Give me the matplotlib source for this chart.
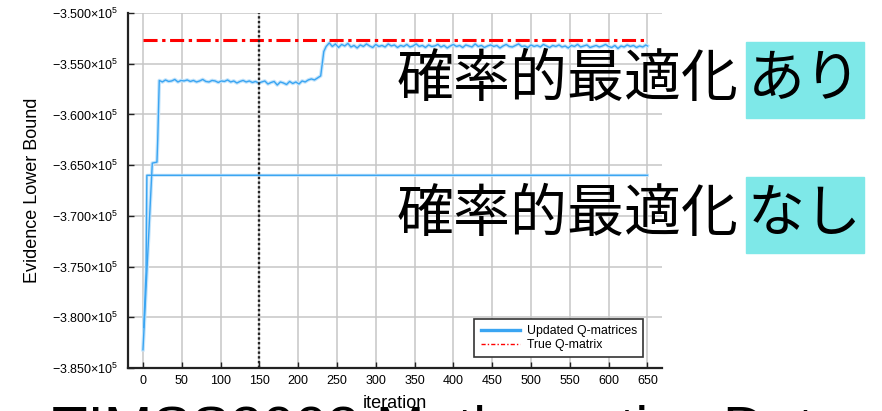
import numpy as np
import matplotlib
matplotlib.use('Agg')
import matplotlib.pyplot as plt
from matplotlib.patches import Rectangle

plt.rcParams['font.family'] = ['Liberation Sans', 'DejaVu Sans']
plt.rcParams['mathtext.fontset'] = 'custom'
plt.rcParams['mathtext.rm'] = 'Liberation Sans'
plt.rcParams['mathtext.default'] = 'rm'

# run with stochastic optimization: fast climb, plateau, jump, second plateau
climb_iter = [0, 12, 18, 19]
climb_elbo = [-383200, -364800, -364700, -362500]

plateau1_iter = list(range(21, 230, 4))
plateau1_elbo = [
    -356650, -356800, -356600, -356750, -356700, -356550, -356800, -356650, -356700, -356600,
    -356750, -356650, -356800, -356700, -356550, -356750, -356800, -356650, -356700, -356850,
    -356700, -356750, -356600, -356800, -356700, -356900, -356750, -356650, -356800, -356700,
    -356850, -356750, -356900, -356800, -356700, -357000, -356850, -356750, -357100, -356800,
    -356900, -357050, -356750, -356950, -356800, -357000, -356700, -356800, -356600, -356500,
    -356600, -356400, -356200,
]

jump_iter = [231, 233, 236]
jump_elbo = [-355000, -353800, -353300]

plateau2_iter = list(range(240, 649, 4)) + [650]
plateau2_elbo = [
    -352950, -353300, -353050, -353400, -353100, -353250, -353000, -353350, -353200, -353450,
    -353150, -353300, -353050, -353250, -353400, -353100, -353300, -353200, -353350, -353050,
    -353250, -353150, -353400, -353200, -353300, -353100, -353350, -353250, -353050, -353300,
    -353200, -353400, -353150, -353300, -353250, -353100, -353350, -353200, -353450, -353250,
    -353100, -353300, -353200, -353400, -353150, -353250, -353350, -353050, -353300, -353200,
    -353400, -353250, -353150, -353300, -353200, -353450, -353250, -353100, -353300, -353350,
    -353200, -353050, -353300, -353250, -353400, -353150, -353300, -353200, -353350, -353100,
    -353250, -353400, -353200, -353300, -353150, -353350, -353250, -353450, -353200, -353300,
    -353100, -353350, -353250, -353150, -353400, -353300, -353200, -353350, -353250, -353100,
    -353300, -353400, -353200, -353500, -353250, -353350, -353150, -353300, -353200, -353400,
    -353250, -353350, -353150, -353250,
]

# run without stochastic optimization
fixed_iter = [1, 4, 5, 650]
fixed_elbo = [-381000, -375500, -366000, -366000]

true_elbo = -352680
marker_iter = 150

y_ticks = np.arange(-385000, -349999, 5000)
x_ticks = np.arange(0, 651, 50)

upd_iter = climb_iter + plateau1_iter + jump_iter + plateau2_iter
upd_elbo = climb_elbo + plateau1_elbo + jump_elbo + plateau2_elbo

W, H = 882, 411
fig = plt.figure(figsize=(W / 100, H / 100), dpi=100)
ax = fig.add_axes([128 / W, 1 - 368 / H, 534 / W, 355 / H])

blue = '#3aa5f2'
halo = '#c4e4fb'
ax.plot(upd_iter, upd_elbo, color=halo, lw=2.6, zorder=2)
ax.plot(fixed_iter, fixed_elbo, color=halo, lw=2.2, zorder=2)
ax.plot(upd_iter, upd_elbo, color=blue, lw=1.0, zorder=3, label='Updated Q-matrices')
ax.plot(fixed_iter, fixed_elbo, color=blue, lw=1.0, zorder=3)
ax.plot([0, 650], [true_elbo, true_elbo], color='red', lw=2.2,
        dashes=(4.6, 1.5, 1.1, 1.5), zorder=3, label='True Q-matrix')
ax.axvline(marker_iter, color='#222222', lw=1.7, ls=(0, (1, 1)), zorder=3)

ax.set_xlim(-19.3, 668.8)
ax.set_ylim(-385000, -350000)
ax.set_xticks(x_ticks)
ax.set_yticks(y_ticks)
ax.set_yticklabels(['\u2212%.3f\u00d710$^{5}$' % (-v / 1e5) for v in y_ticks])
ax.grid(True, color='#c6c6c6', lw=1.1)
ax.set_axisbelow(True)
for s in ['top', 'right']:
    ax.spines[s].set_visible(False)
for s in ['left', 'bottom']:
    ax.spines[s].set_color('#222222')
    ax.spines[s].set_linewidth(1.6)
ax.tick_params(direction='in', length=4, width=1, color='#222222', labelsize=9)
ax.tick_params(axis='y', pad=7)
ax.tick_params(axis='x', pad=5)

ax.set_xlabel('iteration', fontsize=13, labelpad=6)
ax.set_ylabel('Evidence Lower Bound', fontsize=13, labelpad=8)

leg = ax.legend(loc='lower right', bbox_to_anchor=(0.965, 0.03), borderaxespad=0,
                fontsize=8.8, handlelength=3.2, labelspacing=0.2, fancybox=False,
                framealpha=1, edgecolor='#333333', borderpad=0.5, handletextpad=0.6)
leg.get_frame().set_linewidth(1.2)
leg_lines = leg.get_lines()
leg_lines[0].set_linewidth(2.4)
leg_lines[1].set_linewidth(1.0)
leg_lines[1].set_dashes((3, 1.5, 1, 1.5))

# overlaid slide text
jp = ['Noto Sans CJK JP', 'DejaVu Sans']
cyan = '#7ee8e8'
for top, bottom, word in [(42, 118, 'あり'), (177, 253, 'なし')]:
    yc = 1 - (top + bottom) / 2 / H
    fig.patches.append(Rectangle((746 / W, 1 - bottom / H), 118 / W, (bottom - top) / H,
                                 transform=fig.transFigure, color=cyan, zorder=2))
    fig.text(397 / W, yc, '確率的最適化', family=jp, fontsize=41, ha='left', va='center', zorder=4)
    fig.text(805 / W, yc, word, family=jp, fontsize=41, ha='center', va='center', zorder=4)

fig.text(52 / W, -35 / H, 'TIMSS2003 Mathematics Data', fontsize=42, ha='left',
         va='baseline', zorder=-1)

fig.savefig('out.png', dpi=100)
